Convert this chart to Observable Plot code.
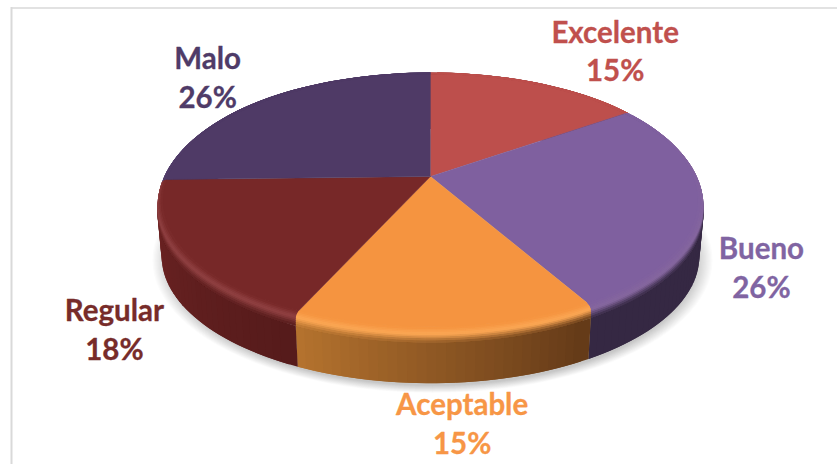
<!DOCTYPE html>
<html>
<head>
<meta charset="utf-8">
<script src="https://cdn.jsdelivr.net/npm/d3@7"></script>
<script src="https://cdn.jsdelivr.net/npm/@observablehq/plot@0.6"></script>
<style>html,body{margin:0;padding:0;background:#fff}svg{display:block}</style>
</head>
<body>
<div id="chart"></div>
<script>
const categories = ["Excelente", "Bueno", "Aceptable", "Regular", "Malo"];
const percentLabels = ["15%", "26%", "15%", "18%", "26%"];
const sliceShares = [15.3, 26.4, 15.1, 17.8, 25.4];

const faceColors = ["#bd4f4c", "#7f609f", "#f59440", "#772828", "#4f3a66"];
const textColors = ["#c0504d", "#8064a2", "#f79646", "#772c2a", "#4f3b68"];
const highlightColors = ["#c45a56", "#86679f", "#fba653", "#8f4041", "#574270"];
const sideStart = ["#6a2a28", "#352843", "#643a18", "#561b1b", "#3c2c4e"];
const sideEnd = ["#6a2a28", "#352843", "#b8752f", "#702424", "#3c2c4e"];
const labelDx = [79, 58, 16, -66, -54];
const labelDy = [-33, 61, 92, 75, -24];

const W = 837, H = 464;
const view = {x: 430, y: 176, a: 267.8, b: 124.2, k: -0.194, depth: 55, baseScale: 0.985, bevel: 12};

function project(theta, r = 1, drop = 0, s = 1) {
  const u = r * Math.sin(theta), v = -r * Math.cos(theta), w = 1 + view.k * v;
  return {x: view.x + s * view.a * u / w, y: view.y + s * view.b * v / w + drop};
}

const total = d3.sum(sliceShares);
let cum = 0;
const slices = sliceShares.map((value, i) => {
  const start = cum / total * 2 * Math.PI;
  cum += value;
  const end = cum / total * 2 * Math.PI;
  return {i, start, end, mid: (start + end) / 2};
});

const steps = (a, b, n) => d3.range(n + 1).map(j => a + (b - a) * j / n);
const polys = [];
let pid = 0;
function addPoly(points, color) {
  const id = pid++;
  for (const p of points) polys.push({x: p.x, y: p.y, id, color});
}

const smooth = t => { t = Math.max(0, Math.min(1, t)); return t * t * (3 - 2 * t); };
const bevelAmount = th => smooth((-Math.cos(th) + 0.75) / 0.85);

// side wall: each strip overlaps the next one, so no seams show
for (const s of slices) {
  const n = Math.max(2, Math.round((s.end - s.start) / 0.03));
  const as = steps(s.start, s.end, n);
  const mix = d3.interpolateRgb(sideStart[s.i], sideEnd[s.i]);
  for (let j = n - 1; j >= 0; j--) {
    const t = (j + 0.5) / n, a0 = as[j], a1 = as[Math.min(n, j + 2)];
    addPoly([
      project(a0, 1, view.bevel * bevelAmount(a0)),
      project(a1, 1, view.bevel * bevelAmount(a1)),
      project(a1, 1, view.depth, view.baseScale),
      project(a0, 1, view.depth, view.baseScale)
    ], mix(t));
  }
}
// rounded rim between the wall and the flat top
const ringCount = 10, innerR = 0.978;
const rAt = t => innerR + (1 - innerR) * Math.sin(Math.min(1, t * 1.6) * Math.PI / 2);
const dropAt = (t, th) => view.bevel * bevelAmount(th) * t * t;
for (let ring = ringCount - 1; ring >= 0; ring--) {
  const t0 = ring / ringCount, t1 = Math.min(1, (ring + 2) / ringCount);
  for (const s of slices) {
    const n = Math.max(2, Math.round((s.end - s.start) / 0.03));
    const as = steps(s.start, s.end, n);
    const side = d3.interpolateRgb(sideStart[s.i], sideEnd[s.i]);
    for (let j = n - 1; j >= 0; j--) {
      const a0 = as[j], a1 = as[Math.min(n, j + 2)];
      const th = (as[j] + as[j + 1]) / 2, amt = bevelAmount(th), t = (ring + 0.5) / ringCount;
      const toHi = d3.interpolateRgb(faceColors[s.i], highlightColors[s.i]);
      const lit = t < 0.4 ? toHi(t / 0.4) : d3.interpolateRgb(highlightColors[s.i], side((j + 0.5) / n))(smooth((t - 0.4) / 0.6));
      const c = d3.interpolateRgb(faceColors[s.i], lit)(amt);
      addPoly([
        project(a0, rAt(t0), dropAt(t0, a0)),
        project(a1, rAt(t0), dropAt(t0, a1)),
        project(a1, rAt(t1), dropAt(t1, a1)),
        project(a0, rAt(t1), dropAt(t1, a0))
      ], c);
    }
  }
}
// flat top faces
const faces = [];
for (const s of slices) {
  const n = Math.max(2, Math.round((s.end - s.start) / 0.02));
  const pts = [project(0, 0), ...steps(s.start, s.end, n).map(a => project(a, innerR + 0.002))];
  pts.forEach(p => faces.push({x: p.x, y: p.y, id: s.i, color: faceColors[s.i]}));
}
// soft ground shadow
const shadow = [];
const shadowLevels = 14;
d3.range(shadowLevels).forEach(level => {
  steps(0, 2 * Math.PI, 120).forEach(a => {
    const p = project(a, 1.04 - 0.0045 * level, view.depth + 2 + level * 0.3, view.baseScale);
    shadow.push({x: p.x + 2, y: p.y, level});
  });
});

const labelData = slices.map(s => {
  const p = project(s.mid);
  return {x: p.x, y: p.y, i: s.i, text: categories[s.i] + "\n" + percentLabels[s.i]};
});

const plot = Plot.plot({
  width: W, height: H, margin: 0,
  x: {axis: null, domain: [0, W]},
  y: {axis: null, domain: [H, 0]},
  color: {type: "identity"},
  style: {background: "#fff", overflow: "hidden"},
  marks: [
    Plot.ruleY([7.5], {x1: 11, x2: W, stroke: "#d9d9d9", strokeWidth: 1.5}),
    Plot.ruleX([11], {y1: 7, y2: H, stroke: "#d9d9d9", strokeWidth: 2}),
    Plot.line(shadow, {x: "x", y: "y", z: "level", fill: "#000", fillOpacity: 0.016, stroke: "none"}),
    Plot.line(polys, {x: "x", y: "y", z: "id", fill: "color", stroke: "none"}),
    Plot.line(faces, {x: "x", y: "y", z: "id", fill: "color", stroke: "color", strokeWidth: 0.4}),
    ...labelData.map(d => Plot.text([d], {
      x: "x", y: "y", text: "text", dx: labelDx[d.i], dy: labelDy[d.i],
      fill: textColors[d.i], stroke: textColors[d.i], strokeWidth: 0.3, fontFamily: "Lato", fontWeight: 700, fontSize: 29.5,
      lineHeight: 1.32, textAnchor: "middle"
    }))
  ]
});
document.getElementById("chart").appendChild(plot);
</script>
</body>
</html>
